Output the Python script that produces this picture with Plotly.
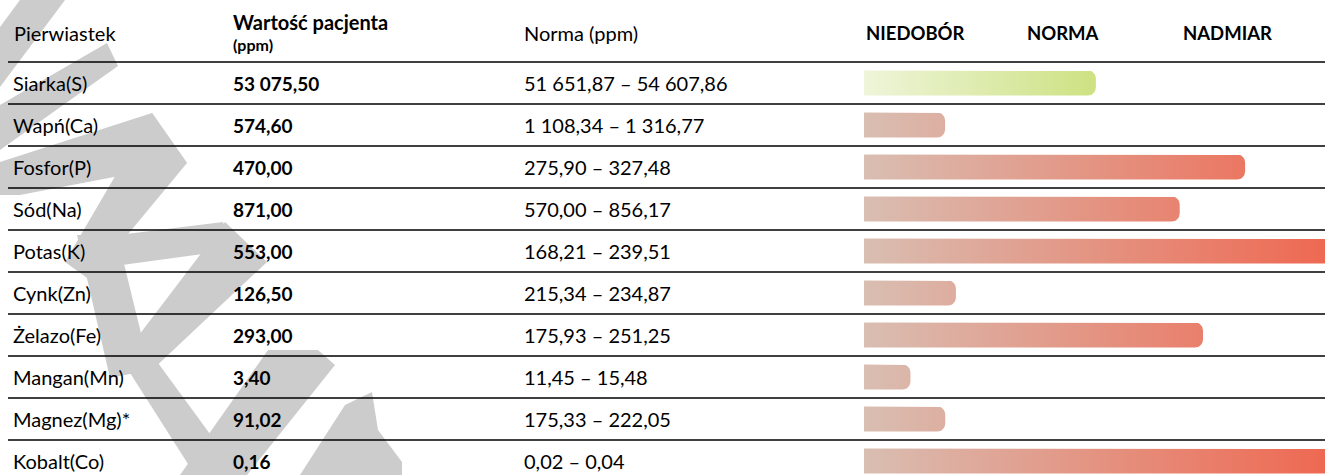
import math
import plotly.graph_objects as go

# ---------------- data ----------------
elements = ["Siarka(S)", "Wapń(Ca)", "Fosfor(P)", "Sód(Na)", "Potas(K)",
            "Cynk(Zn)", "Żelazo(Fe)", "Mangan(Mn)", "Magnez(Mg)*", "Kobalt(Co)"]
patient_values = [53075.50, 574.60, 470.00, 871.00, 553.00,
                  126.50, 293.00, 3.40, 91.02, 0.16]
norm_low = [51651.87, 1108.34, 275.90, 570.00, 168.21,
            215.34, 175.93, 11.45, 175.33, 0.02]
norm_high = [54607.86, 1316.77, 327.48, 856.17, 239.51,
             234.87, 251.25, 15.48, 222.05, 0.04]
zone_labels = ["NIEDOBÓR", "NORMA", "NADMIAR"]
header_labels = ["Pierwiastek", "Wartość pacjenta", "(ppm)", "Norma (ppm)"]

# ---------------- layout constants (pixels) ----------------
W, H = 1325, 475
ROW_H = 42
ROW0_CENTER = 83
BAR_X0 = 864
ZONE_PX = 156.5
BAR_H_PX = 25
CORNER_PX = 8

FONT = "Lato"
RED_SCALE = [[0, "rgb(217,190,178)"], [1, "rgb(239,103,80)"]]
GREEN_SCALE = [[0, "rgb(238,245,218)"], [1, "rgb(172,206,40)"]]


def fmt(v):
    s = f"{v:,.2f}"
    return s.replace(",", " ").replace(".", ",")


def position(v, lo, hi):
    if v < lo:
        return v / lo
    if v <= hi:
        return 1 + (v - lo) / (hi - lo)
    return min(2 + (v / hi - 1), 3)


def px(x):
    return x / W


def py(y):
    return 1 - y / H


fig = go.Figure()

# ---------------- bars ----------------
rx = CORNER_PX / ZONE_PX
ry = CORNER_PX / ROW_H
hh = BAR_H_PX / 2 / ROW_H
for i, (v, lo, hi) in enumerate(zip(patient_values, norm_low, norm_high)):
    p = position(v, lo, hi)
    in_norm = lo <= v <= hi
    xs, ys = [0, p - rx], [i - hh, i - hh]
    for k in range(1, 9):
        t = k / 8 * math.pi / 2
        xs.append(p - rx + rx * math.sin(t))
        ys.append(i - hh + ry - ry * math.cos(t))
    xs.append(p)
    ys.append(i + hh - ry)
    for k in range(1, 9):
        t = k / 8 * math.pi / 2
        xs.append(p - rx + rx * math.cos(t))
        ys.append(i + hh - ry + ry * math.sin(t))
    xs += [0, 0]
    ys += [i + hh, i - hh]
    fig.add_trace(go.Scatter(
        x=xs, y=ys, mode="lines", fill="toself",
        line=dict(width=0, color="rgba(0,0,0,0)"),
        fillgradient=dict(type="horizontal",
                          colorscale=GREEN_SCALE if in_norm else RED_SCALE,
                          start=0, stop=3),
        hoverinfo="skip", showlegend=False))

# ---------------- watermark (decorative) ----------------
watermark = [
    [(20, 0), (65, 0), (0, 87), (0, 27)],
    [(107, 43), (118, 66), (0, 150), (0, 105)],
    [(152, 113), (187, 163), (20, 195), (0, 195), (0, 162)],
    [(152, 113), (187, 163), (90, 280), (65, 262)],
    [(110, 236), (223, 222), (232, 250), (100, 268)],
    [(225, 222), (267, 262), (150, 372), (120, 360)],
    [(77, 235), (117, 235), (150, 370), (110, 378)],
    [(125, 365), (150, 352), (240, 475), (195, 475)],
    [(180, 475), (247, 475), (335, 365), (318, 350), (268, 350)],
    [(300, 475), (402, 475), (402, 462), (378, 430), (372, 392), (345, 405)],
]
shapes = []
for poly in watermark:
    path = "M " + " L ".join(f"{px(x):.5f},{py(y):.5f}" for x, y in poly) + " Z"
    shapes.append(dict(type="path", xref="paper", yref="paper", path=path,
                       fillcolor="rgb(204,204,204)", line=dict(width=0),
                       layer="below"))

# ---------------- row separators ----------------
for i in range(len(elements)):
    shapes.append(dict(type="line", xref="paper", yref="y",
                       x0=px(8), x1=1, y0=i - 0.5, y1=i - 0.5,
                       line=dict(color="black", width=1.7), layer="below"))

# ---------------- text ----------------
ann = []
TXT = 20
BOLD = 19
ann.append(dict(text=header_labels[0], x=px(12), y=py(33), xref="paper", yref="paper",
                xanchor="left", yanchor="middle", showarrow=False,
                font=dict(family=FONT, size=TXT, color="black")))
ann.append(dict(text="<b>" + header_labels[1] + "</b>", x=px(231), y=py(22), xref="paper",
                yref="paper", xanchor="left", yanchor="middle", showarrow=False,
                font=dict(family=FONT, size=20, color="black")))
ann.append(dict(text="<b>" + header_labels[2] + "</b>", x=px(231), y=py(45), xref="paper",
                yref="paper", xanchor="left", yanchor="middle", showarrow=False,
                font=dict(family=FONT, size=16, color="black")))
ann.append(dict(text=header_labels[3], x=px(522), y=py(33), xref="paper", yref="paper",
                xanchor="left", yanchor="middle", showarrow=False,
                font=dict(family=FONT, size=TXT, color="black")))
zone_shift = [0, 4, 4]
for z, lab in enumerate(zone_labels):
    ann.append(dict(text="<b>" + lab + "</b>", x=z, y=py(33), xref="x", yref="paper",
                    xanchor="left", yanchor="middle", xshift=zone_shift[z], showarrow=False,
                    font=dict(family=FONT, size=18.5, color="black")))

for i, name in enumerate(elements):
    ann.append(dict(text=name, x=px(11), y=i, xref="paper", yref="y",
                    xanchor="left", yanchor="middle", showarrow=False,
                    font=dict(family=FONT, size=TXT, color="black")))
    ann.append(dict(text="<b>" + fmt(patient_values[i]) + "</b>", x=px(231), y=i,
                    xref="paper", yref="y", xanchor="left", yanchor="middle",
                    showarrow=False, font=dict(family=FONT, size=BOLD, color="black")))
    ann.append(dict(text=f"{fmt(norm_low[i])} – {fmt(norm_high[i])}", x=px(522), y=i,
                    xref="paper", yref="y", xanchor="left", yanchor="middle",
                    showarrow=False, font=dict(family=FONT, size=TXT, color="black")))

fig.update_layout(
    width=W, height=H,
    margin=dict(l=0, r=0, t=0, b=0),
    paper_bgcolor="white", plot_bgcolor="white",
    showlegend=False,
    shapes=shapes, annotations=ann,
    xaxis=dict(visible=False, domain=[BAR_X0 / W, 1],
               range=[0, (W - BAR_X0) / ZONE_PX], fixedrange=True),
    yaxis=dict(visible=False, domain=[0, 1],
               range=[(H - ROW0_CENTER) / ROW_H, -ROW0_CENTER / ROW_H], fixedrange=True),
)

fig.write_html("out.html", config={"displayModeBar": False})
